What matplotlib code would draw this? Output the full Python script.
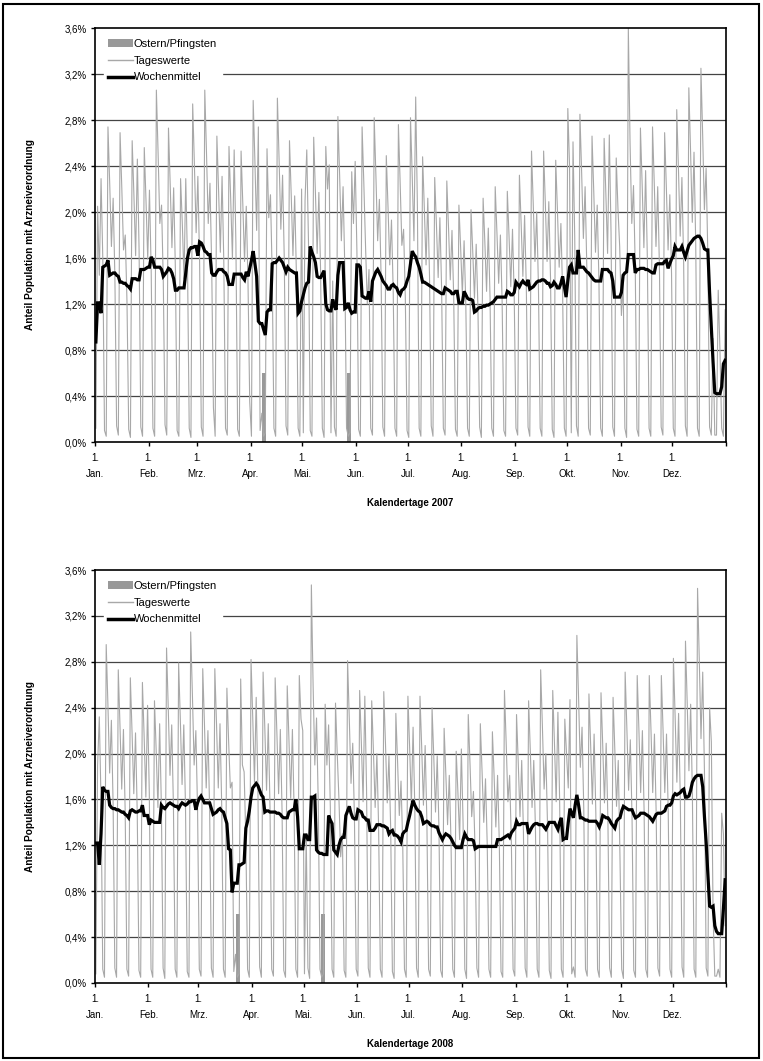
import matplotlib
matplotlib.use("Agg")
import matplotlib.pyplot as plt
from matplotlib.patches import Patch, Rectangle
from matplotlib.lines import Line2D
from matplotlib.ticker import FuncFormatter

plt.rcParams['font.family'] = ['Liberation Sans', 'DejaVu Sans']

# Tageswerte 2007, eine Zeile pro Woche (Mo..So), 1.1.2007 = Montag
tage_2007 = [
    [0.12, 2.05, 1.45, 2.29, 1.60, 0.10, 0.05],
    [2.74, 2.25, 1.70, 2.12, 1.44, 0.14, 0.06],
    [2.69, 2.21, 1.67, 1.80, 1.22, 0.11, 0.04],
    [2.62, 2.15, 1.62, 2.46, 1.67, 0.13, 0.05],
    [2.56, 2.10, 1.59, 2.19, 1.49, 0.12, 0.05],
    [3.06, 2.51, 1.90, 2.06, 1.40, 0.15, 0.06],
    [2.73, 2.24, 1.69, 2.21, 1.50, 0.10, 0.05],
    [2.29, 1.90, 1.42, 2.29, 1.56, 0.12, 0.04],
    [2.94, 2.41, 1.82, 2.31, 1.57, 0.13, 0.05],
    [3.06, 2.51, 1.90, 2.25, 1.53, 0.30, 0.05],
    [2.66, 2.18, 1.65, 2.31, 1.57, 0.12, 0.06],
    [2.57, 2.11, 1.59, 2.54, 1.73, 0.11, 0.05],
    [2.53, 2.07, 1.57, 2.05, 1.39, 0.35, 0.05],
    [2.97, 2.44, 1.84, 2.74, 0.10, 0.25, 0.05],
    [0.08, 2.55, 1.95, 2.15, 1.46, 0.12, 0.05],
    [2.99, 2.45, 1.85, 2.32, 1.58, 0.14, 0.06],
    [2.62, 2.15, 1.62, 2.14, 1.46, 0.12, 0.05],
    [2.20, 0.08, 2.10, 2.54, 1.73, 0.10, 0.05],
    [2.65, 2.17, 1.64, 2.17, 1.48, 0.12, 0.04],
    [2.57, 2.20, 2.41, 0.08, 1.40, 0.13, 0.05],
    [2.83, 2.32, 1.75, 2.22, 1.51, 0.12, 0.05],
    [0.08, 2.35, 1.90, 2.44, 1.66, 0.11, 0.05],
    [2.74, 2.25, 1.70, 1.20, 1.50, 0.12, 0.06],
    [2.82, 2.31, 1.75, 2.11, 1.43, 0.13, 0.05],
    [2.49, 2.04, 1.54, 1.93, 1.31, 0.12, 0.05],
    [2.76, 2.26, 1.71, 1.85, 1.26, 0.10, 0.04],
    [2.82, 2.31, 1.75, 3.00, 2.04, 0.12, 0.05],
    [2.48, 2.03, 1.54, 2.12, 1.44, 0.14, 0.05],
    [2.30, 1.89, 1.43, 1.95, 1.33, 0.12, 0.06],
    [2.27, 1.86, 1.41, 1.84, 1.25, 0.11, 0.05],
    [2.06, 1.69, 1.28, 1.75, 1.19, 0.12, 0.05],
    [2.02, 1.66, 1.25, 1.72, 1.17, 0.13, 0.04],
    [2.12, 1.74, 1.31, 1.86, 1.26, 0.12, 0.05],
    [2.22, 1.82, 1.38, 1.80, 1.22, 0.10, 0.05],
    [2.18, 1.79, 1.35, 1.85, 1.26, 0.12, 0.06],
    [2.32, 1.90, 1.44, 1.97, 1.34, 0.13, 0.05],
    [2.53, 2.07, 1.57, 2.00, 1.36, 0.12, 0.05],
    [2.53, 2.07, 1.57, 2.09, 1.42, 0.11, 0.04],
    [2.45, 2.01, 1.52, 1.90, 1.29, 0.12, 0.05],
    [2.90, 2.40, 0.08, 2.61, 1.78, 0.14, 0.05],
    [2.85, 2.34, 1.77, 2.22, 1.51, 0.12, 0.06],
    [2.66, 2.18, 1.65, 2.06, 1.40, 0.12, 0.05],
    [2.64, 2.16, 1.64, 2.67, 1.82, 0.13, 0.05],
    [2.47, 2.03, 1.70, 1.10, 1.40, 0.12, 0.04],
    [3.60, 2.60, 1.90, 2.23, 1.52, 0.11, 0.05],
    [2.73, 2.24, 1.69, 2.36, 1.60, 0.12, 0.05],
    [2.74, 2.25, 1.70, 2.22, 1.51, 0.13, 0.06],
    [2.69, 2.21, 1.67, 2.15, 1.46, 0.12, 0.05],
    [2.89, 2.37, 1.79, 2.30, 1.56, 0.14, 0.05],
    [3.08, 2.53, 1.91, 2.52, 1.71, 0.12, 0.05],
    [3.25, 2.67, 2.02, 2.38, 1.62, 0.13, 0.06],
    [0.90, 0.06, 0.06, 1.32, 0.80, 0.12, 0.05],
    [1.15],
]

# Tageswerte 2008, erste Zeile Di..So (1.1.2008 = Dienstag)
tage_2008 = [
    [0.08, 1.90, 2.32, 1.58, 0.12, 0.05],
    [2.95, 2.42, 1.83, 2.29, 1.56, 0.13, 0.05],
    [2.73, 2.24, 1.69, 2.21, 1.50, 0.12, 0.06],
    [2.66, 2.18, 1.65, 2.18, 1.48, 0.11, 0.05],
    [2.62, 2.15, 1.62, 2.42, 1.65, 0.12, 0.05],
    [2.46, 2.02, 1.53, 2.26, 1.54, 0.13, 0.04],
    [2.92, 2.39, 1.81, 2.25, 1.53, 0.12, 0.05],
    [2.79, 2.29, 1.73, 2.25, 1.53, 0.10, 0.05],
    [3.06, 2.51, 1.90, 2.20, 1.50, 0.12, 0.06],
    [2.74, 2.25, 1.70, 2.20, 1.50, 0.13, 0.05],
    [2.74, 2.25, 1.70, 2.26, 1.54, 0.12, 0.05],
    [2.57, 2.11, 1.70, 1.75, 0.10, 0.25, 0.05],
    [0.08, 2.65, 1.90, 1.84, 1.25, 0.12, 0.05],
    [2.82, 2.31, 1.75, 2.49, 1.69, 0.14, 0.05],
    [2.71, 2.22, 1.68, 2.26, 1.54, 0.12, 0.06],
    [2.66, 2.18, 1.65, 2.21, 1.50, 0.11, 0.05],
    [2.59, 2.12, 1.61, 2.21, 1.50, 0.12, 0.05],
    [2.68, 2.30, 2.20, 0.08, 1.30, 0.13, 0.04],
    [3.47, 2.60, 1.90, 2.31, 1.57, 0.12, 0.05],
    [0.08, 2.43, 1.90, 2.25, 1.53, 0.12, 0.05],
    [2.44, 2.00, 1.60, 1.10, 1.30, 0.11, 0.05],
    [2.81, 2.30, 1.74, 2.09, 1.42, 0.12, 0.06],
    [2.55, 2.09, 1.58, 2.50, 1.70, 0.13, 0.05],
    [2.46, 2.02, 1.53, 2.00, 1.36, 0.12, 0.05],
    [2.54, 2.08, 1.57, 1.98, 1.35, 0.10, 0.04],
    [2.35, 1.93, 1.46, 1.76, 1.20, 0.12, 0.05],
    [2.50, 2.05, 1.55, 2.23, 1.52, 0.13, 0.05],
    [2.50, 2.05, 1.55, 2.07, 1.41, 0.12, 0.06],
    [2.40, 1.97, 1.49, 1.98, 1.35, 0.11, 0.05],
    [2.22, 1.82, 1.38, 1.81, 1.23, 0.12, 0.05],
    [2.02, 1.66, 1.25, 2.04, 1.39, 0.12, 0.04],
    [2.34, 1.92, 1.45, 1.67, 1.14, 0.13, 0.05],
    [2.26, 1.85, 1.40, 1.78, 1.21, 0.12, 0.05],
    [2.19, 1.80, 1.36, 1.81, 1.23, 0.10, 0.05],
    [2.55, 2.09, 1.58, 1.81, 1.23, 0.12, 0.06],
    [2.34, 1.92, 1.45, 1.94, 1.32, 0.13, 0.05],
    [2.46, 2.02, 1.53, 1.94, 1.32, 0.12, 0.05],
    [2.73, 2.24, 1.69, 2.00, 1.36, 0.11, 0.04],
    [2.55, 2.09, 1.58, 2.36, 1.60, 0.12, 0.05],
    [2.30, 2.00, 1.70, 2.47, 0.08, 0.14, 0.05],
    [3.03, 2.48, 1.88, 2.23, 1.52, 0.12, 0.06],
    [2.52, 2.07, 1.56, 2.17, 1.48, 0.12, 0.05],
    [2.53, 2.07, 1.57, 2.09, 1.42, 0.13, 0.05],
    [2.49, 2.04, 1.54, 1.94, 1.10, 0.12, 0.04],
    [2.71, 2.22, 1.68, 2.12, 1.44, 0.11, 0.05],
    [2.68, 2.20, 1.66, 2.20, 1.50, 0.12, 0.05],
    [2.68, 2.20, 1.66, 2.17, 1.48, 0.13, 0.06],
    [2.68, 2.20, 1.66, 2.17, 1.48, 0.12, 0.05],
    [2.83, 2.32, 1.75, 2.35, 1.60, 0.14, 0.05],
    [2.98, 2.44, 1.85, 2.43, 1.65, 0.12, 0.05],
    [3.44, 2.82, 2.13, 2.71, 1.84, 0.13, 0.06],
    [2.40, 2.10, 0.60, 0.06, 0.06, 0.12, 0.05],
    [1.48, 1.30, 0.50],
]

# Wochenmittel 2007 (je 7 Tage pro Zeile ab 1.1.)
mittel_2007 = [
    [0.87, 1.21, 1.21, 1.12, 1.52, 1.53, 1.54],
    [1.58, 1.45, 1.46, 1.47, 1.47, 1.45, 1.44],
    [1.39, 1.39, 1.38, 1.38, 1.36, 1.35, 1.33],
    [1.42, 1.42, 1.42, 1.41, 1.41, 1.50, 1.50],
    [1.50, 1.51, 1.52, 1.52, 1.61, 1.58, 1.52],
    [1.52, 1.52, 1.52, 1.50, 1.44, 1.46, 1.48],
    [1.51, 1.50, 1.47, 1.42, 1.32, 1.32, 1.34],
    [1.34, 1.34, 1.34, 1.47, 1.60, 1.67, 1.69],
    [1.69, 1.70, 1.70, 1.62, 1.74, 1.73, 1.70],
    [1.66, 1.65, 1.63, 1.63, 1.47, 1.45, 1.45],
    [1.48, 1.50, 1.50, 1.50, 1.48, 1.47, 1.44],
    [1.37, 1.37, 1.37, 1.46, 1.46, 1.46, 1.46],
    [1.46, 1.43, 1.41, 1.48, 1.44, 1.51, 1.58],
    [1.66, 1.55, 1.44, 1.05, 1.03, 1.03, 0.98],
    [0.93, 1.13, 1.15, 1.15, 1.55, 1.56, 1.56],
    [1.58, 1.60, 1.58, 1.56, 1.52, 1.48, 1.52],
    [1.50, 1.49, 1.48, 1.47, 1.47, 1.12, 1.14],
    [1.22, 1.28, 1.34, 1.38, 1.39, 1.70, 1.65],
    [1.61, 1.56, 1.44, 1.43, 1.43, 1.46, 1.49],
    [1.20, 1.15, 1.14, 1.14, 1.24, 1.18, 1.15],
    [1.45, 1.56, 1.56, 1.56, 1.16, 1.17, 1.21],
    [1.15, 1.12, 1.13, 1.13, 1.54, 1.54, 1.52],
    [1.27, 1.26, 1.25, 1.25, 1.31, 1.22, 1.40],
    [1.44, 1.48, 1.50, 1.47, 1.44, 1.40, 1.38],
    [1.36, 1.33, 1.33, 1.36, 1.37, 1.35, 1.34],
    [1.30, 1.28, 1.32, 1.33, 1.35, 1.40, 1.44],
    [1.55, 1.66, 1.63, 1.61, 1.56, 1.52, 1.46],
    [1.39, 1.39, 1.38, 1.37, 1.36, 1.35, 1.34],
    [1.33, 1.32, 1.31, 1.30, 1.29, 1.29, 1.34],
    [1.33, 1.32, 1.31, 1.29, 1.29, 1.31, 1.31],
    [1.21, 1.21, 1.21, 1.31, 1.28, 1.25, 1.24],
    [1.24, 1.23, 1.13, 1.14, 1.16, 1.17, 1.17],
    [1.18, 1.18, 1.19, 1.19, 1.20, 1.21, 1.22],
    [1.24, 1.26, 1.26, 1.26, 1.26, 1.26, 1.26],
    [1.31, 1.30, 1.28, 1.28, 1.30, 1.39, 1.37],
    [1.35, 1.38, 1.40, 1.38, 1.37, 1.41, 1.33],
    [1.34, 1.35, 1.37, 1.39, 1.40, 1.40, 1.41],
    [1.41, 1.40, 1.38, 1.38, 1.35, 1.36, 1.39],
    [1.37, 1.34, 1.34, 1.38, 1.44, 1.35, 1.26],
    [1.40, 1.52, 1.54, 1.47, 1.47, 1.47, 1.67],
    [1.52, 1.52, 1.52, 1.50, 1.48, 1.47, 1.45],
    [1.43, 1.41, 1.40, 1.40, 1.40, 1.40, 1.50],
    [1.50, 1.50, 1.50, 1.48, 1.47, 1.40, 1.26],
    [1.26, 1.26, 1.26, 1.30, 1.45, 1.47, 1.48],
    [1.63, 1.63, 1.63, 1.63, 1.47, 1.50, 1.50],
    [1.51, 1.51, 1.51, 1.50, 1.50, 1.49, 1.48],
    [1.47, 1.47, 1.54, 1.55, 1.55, 1.55, 1.55],
    [1.57, 1.58, 1.51, 1.55, 1.59, 1.62, 1.70],
    [1.67, 1.67, 1.67, 1.70, 1.65, 1.61, 1.66],
    [1.71, 1.73, 1.75, 1.77, 1.78, 1.79, 1.79],
    [1.77, 1.73, 1.68, 1.67, 1.67, 1.30, 1.00],
    [0.70, 0.43, 0.42, 0.42, 0.42, 0.48, 0.68],
    [0.71],
]

# Wochenmittel 2008 (je 7 Tage pro Zeile ab 1.1.)
mittel_2008 = [
    [1.22, 1.22, 1.03, 1.30, 1.71, 1.68, 1.67],
    [1.67, 1.55, 1.53, 1.52, 1.52, 1.51, 1.51],
    [1.50, 1.49, 1.49, 1.47, 1.46, 1.44, 1.50],
    [1.51, 1.50, 1.49, 1.49, 1.50, 1.50, 1.55],
    [1.46, 1.46, 1.46, 1.38, 1.42, 1.41, 1.40],
    [1.40, 1.40, 1.40, 1.55, 1.53, 1.52, 1.54],
    [1.56, 1.57, 1.56, 1.55, 1.54, 1.54, 1.52],
    [1.55, 1.57, 1.56, 1.55, 1.56, 1.58, 1.58],
    [1.59, 1.59, 1.51, 1.57, 1.61, 1.63, 1.60],
    [1.57, 1.57, 1.57, 1.57, 1.52, 1.47, 1.48],
    [1.49, 1.51, 1.52, 1.50, 1.49, 1.44, 1.39],
    [1.17, 1.16, 0.79, 0.87, 0.87, 0.87, 1.03],
    [1.03, 1.04, 1.05, 1.35, 1.41, 1.50, 1.62],
    [1.70, 1.72, 1.74, 1.72, 1.68, 1.64, 1.62],
    [1.49, 1.50, 1.50, 1.49, 1.49, 1.49, 1.49],
    [1.48, 1.48, 1.47, 1.45, 1.44, 1.44, 1.44],
    [1.49, 1.50, 1.51, 1.51, 1.60, 1.45, 1.17],
    [1.17, 1.17, 1.29, 1.29, 1.25, 1.25, 1.62],
    [1.62, 1.63, 1.16, 1.14, 1.13, 1.13, 1.12],
    [1.12, 1.12, 1.46, 1.42, 1.39, 1.16, 1.14],
    [1.12, 1.20, 1.25, 1.27, 1.27, 1.46, 1.50],
    [1.54, 1.48, 1.44, 1.43, 1.43, 1.51, 1.50],
    [1.49, 1.45, 1.44, 1.42, 1.42, 1.33, 1.33],
    [1.33, 1.35, 1.38, 1.38, 1.38, 1.37, 1.37],
    [1.36, 1.35, 1.30, 1.32, 1.33, 1.29, 1.29],
    [1.28, 1.26, 1.23, 1.30, 1.32, 1.33, 1.40],
    [1.46, 1.53, 1.59, 1.55, 1.52, 1.50, 1.49],
    [1.45, 1.39, 1.40, 1.41, 1.40, 1.38, 1.37],
    [1.37, 1.36, 1.36, 1.31, 1.28, 1.25, 1.28],
    [1.30, 1.29, 1.28, 1.26, 1.23, 1.20, 1.18],
    [1.18, 1.18, 1.18, 1.25, 1.30, 1.27, 1.25],
    [1.25, 1.25, 1.24, 1.17, 1.18, 1.19, 1.19],
    [1.19, 1.19, 1.19, 1.19, 1.19, 1.19, 1.19],
    [1.19, 1.19, 1.25, 1.25, 1.25, 1.26, 1.27],
    [1.28, 1.29, 1.27, 1.31, 1.33, 1.35, 1.41],
    [1.38, 1.38, 1.39, 1.39, 1.39, 1.39, 1.30],
    [1.33, 1.36, 1.38, 1.39, 1.39, 1.38, 1.38],
    [1.38, 1.36, 1.34, 1.37, 1.40, 1.40, 1.40],
    [1.40, 1.37, 1.34, 1.40, 1.44, 1.25, 1.26],
    [1.26, 1.40, 1.52, 1.48, 1.44, 1.55, 1.64],
    [1.55, 1.44, 1.44, 1.43, 1.42, 1.42, 1.41],
    [1.41, 1.41, 1.41, 1.41, 1.39, 1.36, 1.40],
    [1.46, 1.45, 1.44, 1.44, 1.42, 1.39, 1.37],
    [1.35, 1.41, 1.43, 1.44, 1.50, 1.54, 1.53],
    [1.52, 1.51, 1.51, 1.51, 1.47, 1.44, 1.45],
    [1.46, 1.48, 1.48, 1.48, 1.47, 1.46, 1.45],
    [1.43, 1.41, 1.44, 1.47, 1.48, 1.48, 1.48],
    [1.49, 1.50, 1.54, 1.55, 1.55, 1.57, 1.63],
    [1.65, 1.64, 1.65, 1.66, 1.68, 1.69, 1.62],
    [1.62, 1.63, 1.68, 1.75, 1.78, 1.80, 1.81],
    [1.81, 1.81, 1.71, 1.45, 1.22, 0.95, 0.67],
    [0.66, 0.67, 0.50, 0.45, 0.43, 0.43, 0.43],
    [0.65, 0.90],
]

# Ostern / Pfingsten (Sonntag + Montag, Tag des Jahres ab 0)
feiertage_2007 = [97, 98, 146, 147]
feiertage_2008 = [82, 83, 131, 132]
feiertag_hoehe = 0.6

monate_2007 = [0, 31, 59, 90, 120, 151, 181, 212, 243, 273, 304, 334, 365]
monate_2008 = [0, 31, 60, 91, 121, 152, 182, 213, 244, 274, 305, 335, 366]
monat_labels = ['1.\nJan.', '1.\nFeb.', '1.\nMrz.', '1.\nApr.', '1.\nMai.', '1.\nJun.',
                '1.\nJul.', '1.\nAug.', '1.\nSep.', '1.\nOkt.', '1.\nNov.', '1.\nDez.', '']
y_ticks = [0.0, 0.4, 0.8, 1.2, 1.6, 2.0, 2.4, 2.8, 3.2, 3.6]


def flat(rows):
    return [v for r in rows for v in r]


def draw_year(ax, tage, mittel, feiertage, monate, jahr):
    tage = flat(tage)
    mittel = flat(mittel)
    n = monate[-1]
    assert len(tage) == n and len(mittel) == n
    x = [i + 0.5 for i in range(n)]

    for y in y_ticks[1:-1]:
        ax.axhline(y, color='#444444', lw=0.9, zorder=0)

    ax.bar([d + 0.5 for d in feiertage], [feiertag_hoehe] * len(feiertage),
           width=1.4, color='#999999', zorder=1)
    ax.plot(x, tage, color='#a8a8a8', lw=0.8, zorder=2)
    ax.plot(x, mittel, color='black', lw=2.3, zorder=3, solid_joinstyle='miter')

    ax.set_xlim(0, n)
    ax.set_ylim(0, 3.6)
    ax.set_yticks(y_ticks)
    ax.yaxis.set_major_formatter(FuncFormatter(lambda v, p: f"{v:.1f}%".replace('.', ',')))
    ax.set_xticks(monate)
    ax.set_xticklabels(monat_labels, linespacing=1.75, multialignment='center')
    ax.tick_params(axis='both', direction='out', length=3, width=1, labelsize=7)
    ax.tick_params(axis='x', pad=5)
    ax.tick_params(axis='y', pad=3)

    for s in ax.spines.values():
        s.set_linewidth(1.2)
        s.set_color('black')

    ax.set_xlabel('Kalendertage %d' % jahr, fontsize=7, fontweight='bold')
    ax.xaxis.set_label_coords(0.5, -0.135)
    ax.set_ylabel('Anteil Population mit Arzneiverordnung', fontsize=7.3, fontweight='bold')
    ax.yaxis.set_label_coords(-0.095, 0.5)

    handles = [Patch(facecolor='#999999', edgecolor='none'),
               Line2D([], [], color='#a8a8a8', lw=1),
               Line2D([], [], color='black', lw=2.5)]
    leg = ax.legend(handles, ['Ostern/Pfingsten', 'Tageswerte', 'Wochenmittel'],
                    loc='upper left', bbox_to_anchor=(0.014, 0.985), fontsize=8,
                    frameon=True, fancybox=False, edgecolor='white', framealpha=1,
                    borderpad=0.4, labelspacing=0.62, handlelength=2.2,
                    handletextpad=0.1, borderaxespad=0)
    leg.set_zorder(5)


fig = plt.figure(figsize=(7.63, 10.61), dpi=100)
ax1 = fig.add_axes([95 / 763, 1 - 442 / 1061, 631 / 763, 414 / 1061])
ax2 = fig.add_axes([95 / 763, 1 - 983 / 1061, 631 / 763, 413 / 1061])

draw_year(ax1, tage_2007, mittel_2007, feiertage_2007, monate_2007, 2007)
draw_year(ax2, tage_2008, mittel_2008, feiertage_2008, monate_2008, 2008)

# Rahmen um die ganze Grafik
fig.patches.append(Rectangle((3 / 763, 3 / 1061), 756 / 763, 1054 / 1061,
                             transform=fig.transFigure, fill=False,
                             edgecolor='black', lw=1.5))

fig.savefig('out.png', dpi=100)
